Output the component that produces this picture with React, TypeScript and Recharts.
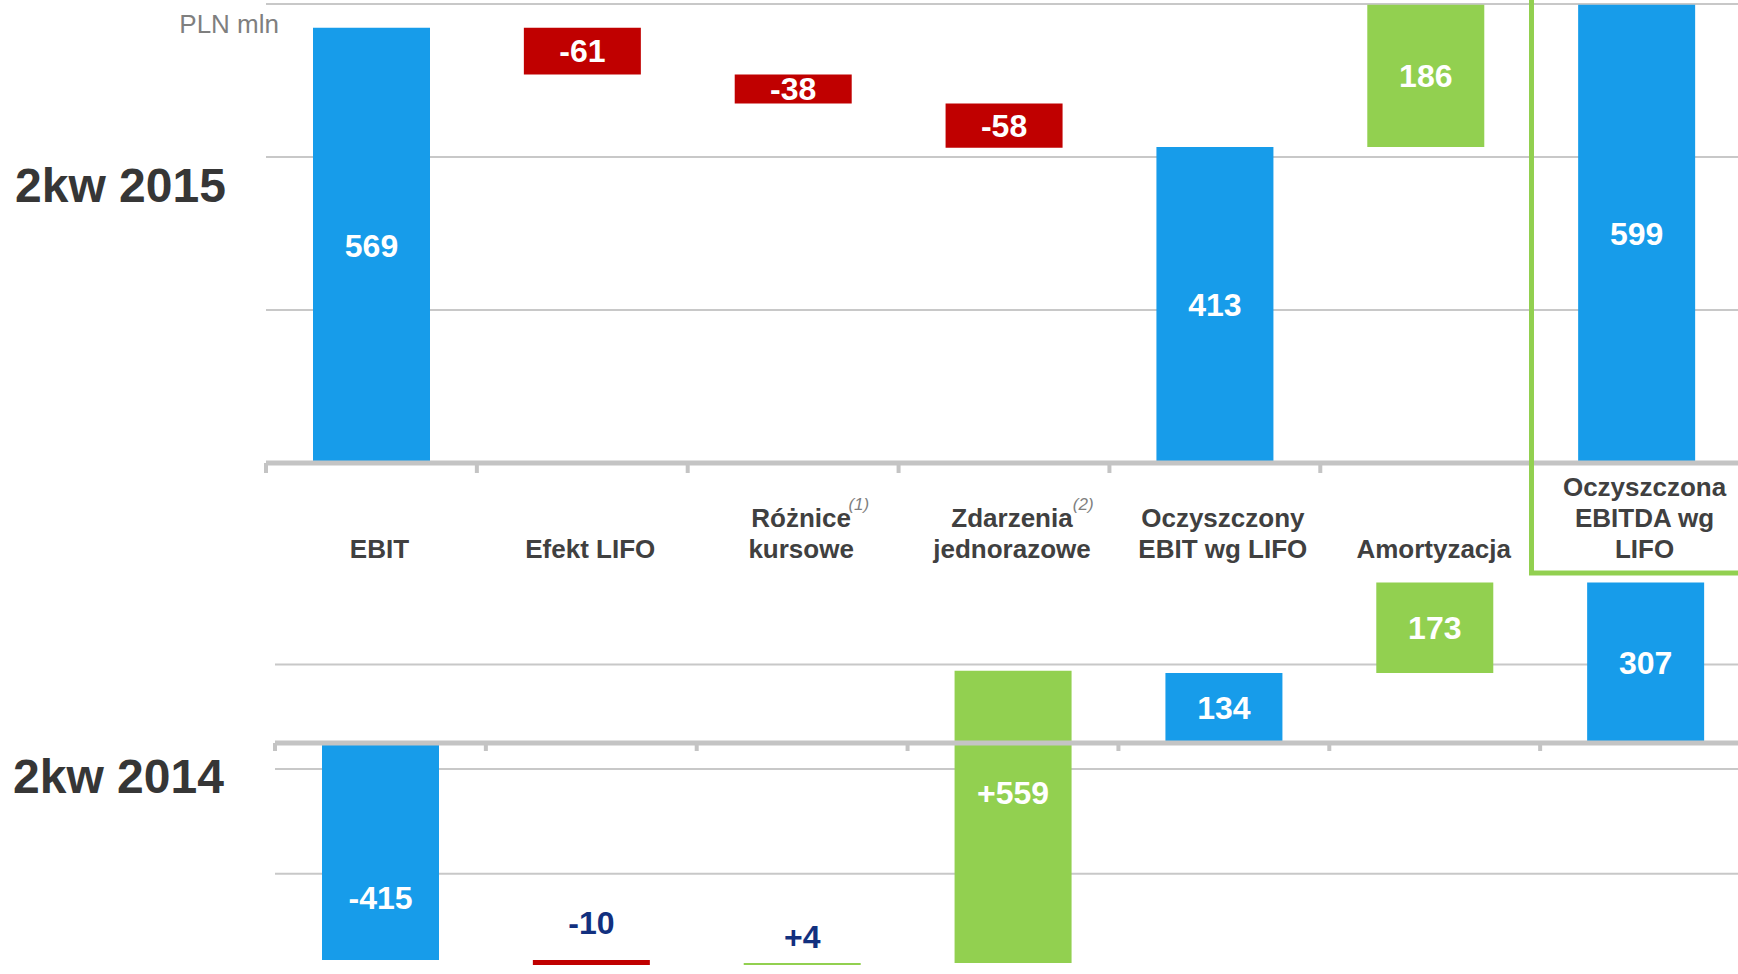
import React from 'react'
import {
  BarChart, Bar, XAxis, YAxis, CartesianGrid, Cell, LabelList, ReferenceLine,
} from 'recharts'

const FONT = '"Liberation Sans", Arial, Helvetica, sans-serif'
const BLUE = '#179cea'
const RED = '#c00000'
const GREEN = '#92d050'
const NAVY = '#12307f'
const GRID = '#c8c8c8'
const AXIS = '#c4c4c4'
const TEXT = '#404040'

// categories + label text
const CATEGORIES = [
  'EBIT', 'Efekt LIFO', 'Różnice kursowe', 'Zdarzenia jednorazowe',
  'Oczyszczony EBIT wg LIFO', 'Amortyzacja', 'Oczyszczona EBITDA wg LIFO',
]
const CATEGORY_LINES = [
  ['EBIT'], ['Efekt LIFO'], ['Różnice', 'kursowe'], ['Zdarzenia', 'jednorazowe'],
  ['Oczyszczony', 'EBIT wg LIFO'], ['Amortyzacja'], ['Oczyszczona', 'EBITDA wg', 'LIFO'],
]
const FOOTNOTES = ['', '', '(1)', '(2)', '', '', '']
const STEP_KIND = ['total', 'delta', 'delta', 'delta', 'total', 'delta', 'total']

// 2kw 2015
const Q2_2015 = [569, -61, -38, -58, 413, 186, 599]
const Q2_2015_LABELS = ['569', '-61', '-38', '-58', '413', '186', '599']
// 2kw 2014
const Q2_2014 = [-415, -10, 4, 559, 134, 173, 307]
const Q2_2014_LABELS = ['-415', '-10', '+4', '+559', '134', '173', '307']

const TOP_GRID = [200, 400, 600]
const BOTTOM_GRID = [-250, -50, 150]

// layout
const TOP_W = 1742
const TOP_H = 575
const TOP_LEFT = 266
const BOT_W = 1751
const BOT_H = 415
const BOT_LEFT = 275
const BOT_TOP = 560
const BOT_ZERO_Y = 183
const BAND = (TOP_W - TOP_LEFT) / CATEGORIES.length
const TOP_NUDGE = [0, 0, 0, 0, 0, 0, 0]
const BOTTOM_NUDGE = [46, -40, -27, -24, 0, 0, 0]

function waterfall(values: number[], labels: string[]) {
  let run = 0
  return values.map((v, i) => {
    let lo: number, hi: number
    if (STEP_KIND[i] === 'total') {
      lo = Math.min(0, v); hi = Math.max(0, v); run = v
    } else {
      lo = Math.min(run, run + v); hi = Math.max(run, run + v); run += v
    }
    return { name: CATEGORIES[i], range: [lo, hi], value: v, label: labels[i] }
  })
}

const colorFor = (i: number, v: number) =>
  STEP_KIND[i] === 'total' ? BLUE : v < 0 ? RED : GREEN

const topData = waterfall(Q2_2015, Q2_2015_LABELS)
const bottomData = waterfall(Q2_2014, Q2_2014_LABELS)

function TopTick(props: any) {
  const { x, payload } = props
  const i = CATEGORIES.indexOf(payload.value)
  const lines = CATEGORY_LINES[i]
  const cx = x + 8
  const last = 558
  const first = last - (lines.length - 1) * 31
  const note = FOOTNOTES[i]
  return (
    <g>
      <line x1={x - BAND / 2} x2={x - BAND / 2} y1={463} y2={473} stroke={AXIS} strokeWidth={4} />
      <text textAnchor="middle" fontFamily={FONT} fontSize={26} fontWeight={700} fill={TEXT}>
        {lines.map((l, k) => (
          <tspan key={k} x={cx} y={first + k * 31}>{l}</tspan>
        ))}
      </text>
      {note && (
        <text
          x={cx + lines[0].length * 6.76}
          y={first - 17}
          fontFamily={FONT}
          fontSize={17}
          fontStyle="italic"
          fill="#7f7f7f"
        >
          {note}
        </text>
      )}
    </g>
  )
}

function BottomTick(props: any) {
  const { x } = props
  return (
    <line x1={x - BAND / 2} x2={x - BAND / 2} y1={BOT_ZERO_Y} y2={BOT_ZERO_Y + 8} stroke={AXIS} strokeWidth={4} />
  )
}

const valueLabel = (texts: string[], nudge: number[]) => (p: any) => {
  const vb = p.viewBox && p.viewBox.width != null ? p.viewBox : p
  const x = Number(vb.x), y = Number(vb.y), w = Number(vb.width), h = Number(vb.height)
  const i = p.index
  const small = Math.abs(h) < 12
  return (
    <text
      x={x + w / 2}
      y={y + h / 2 + nudge[i]}
      dy="0.35em"
      textAnchor="middle"
      fontFamily={FONT}
      fontSize={32}
      fontWeight={700}
      fill={small ? NAVY : '#ffffff'}
    >
      {texts[i]}
    </text>
  )
}

export default function App() {
  return (
    <div
      style={{
        position: 'absolute', left: 0, top: 0, width: 1738, height: 974,
        overflow: 'hidden', background: '#fff', fontFamily: FONT,
      }}
    >
      <div style={{ position: 'absolute', left: 0, top: 0 }}>
        <BarChart
          width={TOP_W}
          height={TOP_H}
          data={topData}
          margin={{ top: 4, right: 0, bottom: 0, left: TOP_LEFT }}
          barSize={117}
        >
          <CartesianGrid vertical={false} stroke={GRID} strokeWidth={2} horizontalValues={TOP_GRID} />
          <YAxis hide type="number" domain={[0, 600]} ticks={TOP_GRID} allowDataOverflow />
          <XAxis
            dataKey="name"
            height={112}
            interval={0}
            axisLine={{ stroke: AXIS, strokeWidth: 5 }}
            tickLine={false}
            tick={(p: any) => <TopTick {...p} />}
          />
          <Bar dataKey="range" isAnimationActive={false}>
            {topData.map((d, i) => <Cell key={i} fill={colorFor(i, d.value)} />)}
            <LabelList dataKey="label" content={valueLabel(Q2_2015_LABELS, TOP_NUDGE)} />
          </Bar>
        </BarChart>
      </div>

      <div style={{ position: 'absolute', left: 0, top: BOT_TOP }}>
        <BarChart
          width={BOT_W}
          height={BOT_H}
          data={bottomData}
          margin={{ top: 0, right: 0, bottom: 0, left: BOT_LEFT }}
          barSize={117}
        >
          <CartesianGrid vertical={false} stroke={GRID} strokeWidth={2} horizontalValues={BOTTOM_GRID} />
          <YAxis hide type="number" domain={[-442, 350]} ticks={BOTTOM_GRID} allowDataOverflow />
          <XAxis
            dataKey="name"
            height={1}
            interval={0}
            axisLine={false}
            tickLine={false}
            tick={(p: any) => <BottomTick {...p} />}
          />
          <Bar dataKey="range" isAnimationActive={false}>
            {bottomData.map((d, i) => <Cell key={i} fill={colorFor(i, d.value)} />)}
            <LabelList dataKey="label" content={valueLabel(Q2_2014_LABELS, BOTTOM_NUDGE)} />
          </Bar>
          <ReferenceLine y={0} stroke={AXIS} strokeWidth={5} />
        </BarChart>
      </div>

      <svg
        width={1738}
        height={974}
        style={{ position: 'absolute', left: 0, top: 0, pointerEvents: 'none' }}
      >
        <text x={279} y={33} textAnchor="end" fontFamily={FONT} fontSize={26} fill="#7f7f7f">PLN mln</text>
        <text x={15} y={202} fontFamily={FONT} fontSize={48} fontWeight={700} fill="#363636">2kw 2015</text>
        <text x={13} y={793} fontFamily={FONT} fontSize={48} fontWeight={700} fill="#363636">2kw 2014</text>
        <rect x={1531.5} y={-20} width={400} height={593} fill="none" stroke={GREEN} strokeWidth={5} />
      </svg>
    </div>
  )
}
